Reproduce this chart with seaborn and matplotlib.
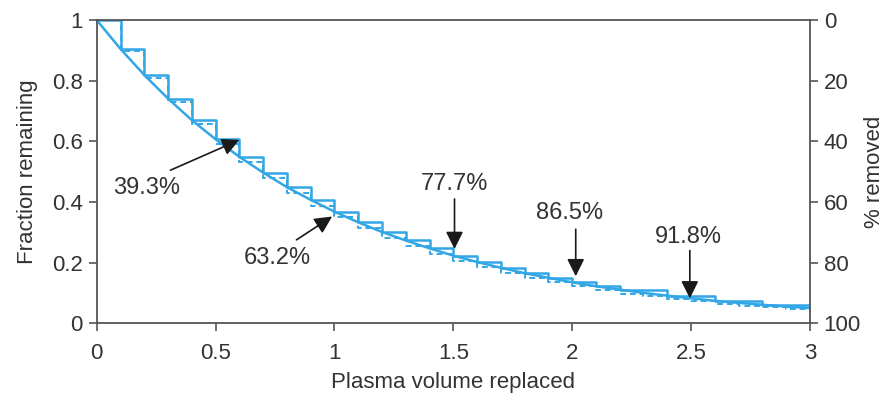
import numpy as np
import pandas as pd
import matplotlib
matplotlib.use("Agg")
import matplotlib.pyplot as plt
import seaborn as sns

# ---- data ----
curve_x = [0.0, 0.1, 0.2, 0.3, 0.4, 0.5, 0.6, 0.7, 0.8, 0.9, 1.0, 1.1, 1.2, 1.3, 1.4, 1.5,
           1.6, 1.7, 1.8, 1.9, 2.0, 2.1, 2.2, 2.3, 2.4, 2.5, 2.6, 2.7, 2.8, 2.9, 3.0]
curve_y = [1.000, 0.905, 0.819, 0.741, 0.670, 0.607, 0.549, 0.497, 0.449, 0.407, 0.368,
           0.333, 0.301, 0.273, 0.247, 0.223, 0.202, 0.183, 0.165, 0.150, 0.135, 0.122,
           0.111, 0.100, 0.091, 0.082, 0.074, 0.067, 0.061, 0.055, 0.050]

step_x = [0.0, 0.1, 0.2, 0.3, 0.4, 0.5, 0.6, 0.7, 0.8, 0.9, 1.0, 1.1, 1.2, 1.3, 1.4, 1.5,
          1.6, 1.7, 1.8, 1.9, 2.0, 2.1, 2.2, 2.4, 2.6, 2.8, 3.0]
step_y = [1.000, 0.905, 0.819, 0.741, 0.670, 0.607, 0.549, 0.497, 0.449, 0.407, 0.368,
          0.333, 0.301, 0.273, 0.247, 0.223, 0.202, 0.183, 0.165, 0.150, 0.135, 0.122,
          0.111, 0.091, 0.074, 0.061, 0.055]

dash_x = [0.0, 0.1, 0.2, 0.3, 0.4, 0.5, 0.6, 0.7, 0.8, 0.9, 1.0, 1.1, 1.2, 1.3, 1.4, 1.5,
          1.6, 1.7, 1.8, 1.9, 2.0, 2.1, 2.2, 2.3, 2.4, 2.5, 2.6, 2.7, 2.8, 2.9, 3.0]
dash_y = [1.000, 0.900, 0.810, 0.729, 0.656, 0.590, 0.531, 0.478, 0.430, 0.387, 0.349,
          0.314, 0.282, 0.254, 0.229, 0.206, 0.185, 0.167, 0.150, 0.135, 0.122, 0.109,
          0.098, 0.089, 0.080, 0.072, 0.065, 0.058, 0.052, 0.047, 0.047]

ann_labels = ["39.3%", "63.2%", "77.7%", "86.5%", "91.8%"]
ann_text_xy = [(0.21, 0.445), (0.76, 0.215), (1.505, 0.46), (1.99, 0.365), (2.49, 0.285)]
ann_tail_xy = [(0.31, 0.505), (0.84, 0.275), (1.505, 0.41), (2.015, 0.31), (2.495, 0.24)]
ann_head_xy = [(0.60, 0.605), (0.99, 0.352), (1.505, 0.245), (2.015, 0.155), (2.495, 0.082)]

xticks = [0, 0.5, 1, 1.5, 2, 2.5, 3]
xtick_labels = ["0", "0.5", "1", "1.5", "2", "2.5", "3"]
yticks = [0, 0.2, 0.4, 0.6, 0.8, 1]
ytick_labels = ["0", "0.2", "0.4", "0.6", "0.8", "1"]
rticks = [0, 20, 40, 60, 80, 100]
rtick_labels = ["0", "20", "40", "60", "80", "100"]

# ---- styling ----
sns.set_theme(style="white")
plt.rcParams['font.family'] = ['Liberation Sans', 'DejaVu Sans']
blue = "#33a6e6"
axcol = "#555555"
txtcol = "#333333"
fs = 16
fs_ann = 17

fig = plt.figure(figsize=(8.88, 4.04), dpi=100)
ax = fig.add_axes([0.109, 0.200, 0.803, 0.750])

df_curve = pd.DataFrame({"x": curve_x, "y": curve_y})
df_step = pd.DataFrame({"x": step_x, "y": step_y})
df_dash = pd.DataFrame({"x": dash_x, "y": dash_y})

sns.lineplot(data=df_dash, x="x", y="y", ax=ax, color=blue, lw=1.4,
             drawstyle="steps-post", linestyle=(0, (3, 2)),
             estimator=None, sort=False)
sns.lineplot(data=df_step, x="x", y="y", ax=ax, color=blue, lw=1.8,
             drawstyle="steps-post", estimator=None, sort=False)
sns.lineplot(data=df_curve, x="x", y="y", ax=ax, color=blue, lw=1.8,
             estimator=None, sort=False)

ax.set_xlim(0, 3)
ax.set_ylim(0, 1)
ax.set_xticks(xticks)
ax.set_xticklabels(xtick_labels)
ax.set_yticks(yticks)
ax.set_yticklabels(ytick_labels)
ax.set_xlabel("Plasma volume replaced", fontsize=fs, color=txtcol, labelpad=6)
ax.set_ylabel("Fraction remaining", fontsize=fs, color=txtcol, labelpad=10)
ax.tick_params(axis="both", direction="out", length=6, width=1.2, colors=axcol,
               labelsize=fs, labelcolor=txtcol, pad=4)
ax.tick_params(axis="x", bottom=True, pad=8)
ax.tick_params(axis="y", left=True)
for s in ax.spines.values():
    s.set_visible(True)
    s.set_color(axcol)
    s.set_linewidth(1.3)

ax2 = ax.twinx()
ax2.set_ylim(100, 0)
ax2.set_yticks(rticks)
ax2.set_yticklabels(rtick_labels)
ax2.set_ylabel("% removed", fontsize=fs, color=txtcol, labelpad=2)
ax2.tick_params(axis="y", direction="out", length=6, width=1.2, colors=axcol,
                labelsize=fs, labelcolor=txtcol, pad=4, right=True)
for s in ax2.spines.values():
    s.set_visible(False)

for lab, txy, tail, head in zip(ann_labels, ann_text_xy, ann_tail_xy, ann_head_xy):
    ax.text(txy[0], txy[1], lab, fontsize=fs_ann, color=txtcol, ha="center", va="center")
    ax.annotate("", xy=head, xytext=tail,
                arrowprops=dict(arrowstyle="-|>,head_length=0.7,head_width=0.35",
                                color="#1a1a1a", lw=1.2,
                                mutation_scale=15, shrinkA=0, shrinkB=0))

fig.savefig("out.png", dpi=100)
